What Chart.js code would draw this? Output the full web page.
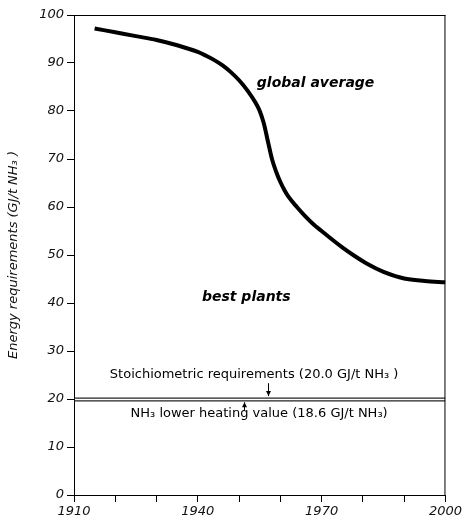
<!DOCTYPE html>
<html>
<head>
<meta charset="utf-8">
<script src="https://cdn.jsdelivr.net/npm/chart.js@4/dist/chart.umd.min.js"></script>
<style>
  html, body { margin: 0; padding: 0; background: #fff; }
  #wrap { width: 464px; height: 522px; }
</style>
</head>
<body>
<div id="wrap"><canvas id="c" width="464" height="522"></canvas></div>
<script>
'use strict';

/* datos */
const years  = [1915, 1920, 1925, 1930, 1935, 1940, 1942, 1944, 1946, 1948, 1950, 1952, 1954, 1955, 1956, 1957, 1958, 1959, 1960, 1961, 1962, 1964, 1966, 1968, 1970, 1972, 1975, 1978, 1981, 1985, 1990, 1995, 2000];
const energy = [97.2, 96.4, 95.6, 94.8, 93.7, 92.3, 91.5, 90.6, 89.5, 88.1, 86.4, 84.3, 81.7, 80.0, 77.4, 73.6, 69.9, 67.3, 65.2, 63.5, 62.1, 60.0, 58.1, 56.4, 55.0, 53.6, 51.6, 49.8, 48.2, 46.5, 45.1, 44.6, 44.3];
const refYears  = [1910, 2000];
const stoichLine = [20.2, 20.2];
const lhvLine    = [19.6, 19.6];
const xLabeled = [1910, 1940, 1970, 2000];

/* anotaciones en unidades de datos */
const notes = [
  { text: 'global average', x: 1954.3, y: 85.8, bold: true, align: 'left' },
  { text: 'best plants', x: 1941, y: 41.2, bold: true, align: 'left' },
  { text: 'Stoichiometric requirements (20.0 GJ/t NH₃ )', x: 1988.6, y: 25.0, bold: false, align: 'right' },
  { text: 'NH₃ lower heating value (18.6 GJ/t NH₃)', x: 1986, y: 16.9, bold: false, align: 'right' },
];
const arrowDown = { x: 1956.9, from: 23.3, to: 20.6 };
const arrowUp   = { x: 1951.1, from: 17.6, to: 19.3 };

const FONT = 'DejaVu Sans, sans-serif';
const pts = (xs, ys) => xs.map((x, i) => ({ x, y: ys[i] }));

const framePlugin = {
  id: 'frame',
  afterDatasetsDraw(chart) {
    const { ctx, chartArea: a } = chart;
    ctx.save();
    ctx.strokeStyle = '#000';
    ctx.lineWidth = 1;
    ctx.beginPath();
    ctx.moveTo(a.left, a.top + 0.5); ctx.lineTo(a.right, a.top + 0.5);
    ctx.moveTo(a.right - 0.5, a.top); ctx.lineTo(a.right - 0.5, a.bottom);
    ctx.stroke();
    ctx.restore();
  }
};

const notesPlugin = {
  id: 'notes',
  afterDatasetsDraw(chart) {
    const { ctx, scales: { x, y } } = chart;
    ctx.save();
    ctx.fillStyle = '#000';
    ctx.textBaseline = 'middle';
    notes.forEach(n => {
      ctx.font = (n.bold ? 'italic bold 14px ' : '13px ') + FONT;
      ctx.textAlign = n.align;
      ctx.fillText(n.text, x.getPixelForValue(n.x), y.getPixelForValue(n.y));
    });
    const arrow = (a, up) => {
      const px = Math.round(x.getPixelForValue(a.x)) + 0.5;
      const y0 = y.getPixelForValue(a.from), y1 = y.getPixelForValue(a.to);
      ctx.strokeStyle = '#000'; ctx.lineWidth = 1;
      ctx.beginPath(); ctx.moveTo(px, y0); ctx.lineTo(px, y1); ctx.stroke();
      const d = up ? 5 : -5;
      ctx.beginPath();
      ctx.moveTo(px, y1); ctx.lineTo(px - 2.5, y1 + d); ctx.lineTo(px + 2.5, y1 + d);
      ctx.closePath(); ctx.fill();
    };
    arrow(arrowDown, false);
    arrow(arrowUp, true);
    ctx.restore();
  }
};

const tickFont = { family: FONT, size: 13, style: 'italic' };

new Chart(document.getElementById('c'), {
  type: 'line',
  data: {
    datasets: [
      { data: pts(years, energy), borderColor: '#000', borderWidth: 4, pointRadius: 0, cubicInterpolationMode: 'monotone', fill: false },
      { data: pts(refYears, stoichLine), borderColor: '#222', borderWidth: 1.2, pointRadius: 0, fill: false },
      { data: pts(refYears, lhvLine), borderColor: '#222', borderWidth: 1.2, pointRadius: 0, fill: false },
    ]
  },
  options: {
    responsive: false, animation: false,
    layout: { padding: { top: 15, right: 18, left: 0, bottom: 0 } },
    plugins: { legend: { display: false }, tooltip: { enabled: false } },
    scales: {
      x: {
        type: 'linear', min: 1910, max: 2000,
        afterFit: s => { s.height = 27; },
        border: { color: '#000', width: 1 },
        grid: { drawOnChartArea: false, color: '#000', tickLength: 7 },
        ticks: { stepSize: 10, color: '#111', font: tickFont, padding: 2, maxRotation: 0, autoSkip: false,
                 callback: v => xLabeled.includes(v) ? String(v) : '' },
      },
      y: {
        min: 0, max: 100,
        afterFit: s => { s.width = 74; },
        border: { color: '#000', width: 1 },
        grid: { drawOnChartArea: false, color: '#000', tickLength: 7 },
        ticks: { stepSize: 10, color: '#111', font: tickFont, padding: 3 },
        title: { display: true, text: 'Energy requirements (GJ/t NH₃ )', color: '#111',
                 font: { family: FONT, size: 13, style: 'italic' }, padding: { top: 6, bottom: 0 } },
      },
    },
  },
  plugins: [framePlugin, notesPlugin],
});
</script>
</body>
</html>
